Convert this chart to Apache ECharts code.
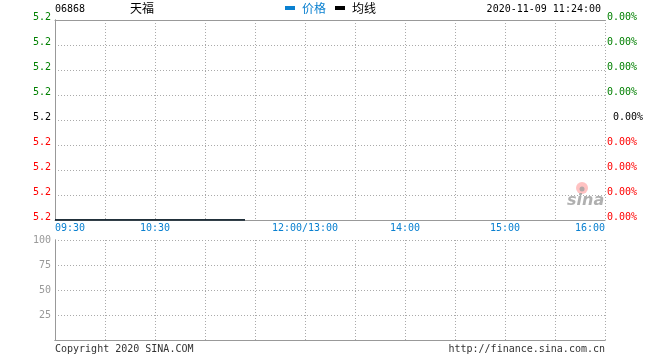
<!DOCTYPE html>
<html><head><meta charset="utf-8">
<script src="https://cdn.jsdelivr.net/npm/echarts@6/dist/echarts.min.js"></script>
<style>html,body{margin:0;padding:0;background:#fff}#c{width:660px;height:360px}</style>
</head><body><div id="c"></div>
<script>
// ---- data ----
var stockCode = '06868';
var stockName = '天福';
var timestamp = '2020-11-09 11:24:00';
var seriesNames = ['价格', '均线'];
var times = ['09:30', '11:24'];
var prices = [5.2, 5.2];
var avgPrices = [5.2, 5.2];
var priceTickLabels = ['5.2','5.2','5.2','5.2','5.2','5.2','5.2','5.2','5.2']; // bottom -> top
var pctTickLabels = ['0.00%','0.00%','0.00%','0.00%','0.00%','0.00%','0.00%','0.00%','0.00%'];
var timeTickLabels = ['09:30','10:30','12:00/13:00','14:00','15:00','16:00'];
var timeTickMinutes = [0, 60, 150, 210, 270, 330];
var volTickLabels = [100, 75, 50, 25];
var copyright = 'Copyright 2020 SINA.COM';
var siteUrl = 'http://finance.sina.com.cn';

// ---- helpers ----
function toMinutes(t) {
  var p = t.split(':'); var m = (+p[0]) * 60 + (+p[1]);
  var open = 9 * 60 + 30;
  if (m <= 12 * 60) return m - open;
  return (m - 13 * 60) + 150;
}
var priceData = times.map(function (t, i) { return [toMinutes(t), prices[i]]; });
var avgData = times.map(function (t, i) { return [toMinutes(t), avgPrices[i]]; });

var MONO = 'DejaVu Sans Mono';
var CJK = 'Noto Sans CJK SC';
var GREEN = '#008000', RED = '#ff0000', BLUE = '#0a80d0', GRAY = '#999999';
var yMin = 5.2, yInt = 0.1, yMax = 6.0;

function levelIndex(v) { return Math.round((v - yMin) / yInt); }
function colorKey(i) { return i < 4 ? 'r' : (i === 4 ? 'k' : 'g'); }
var rich = {
  r: { color: RED, fontFamily: MONO, fontSize: 10 },
  k: { color: '#000', fontFamily: MONO, fontSize: 10 },
  g: { color: GREEN, fontFamily: MONO, fontSize: 10 },
  km: { color: '#000', fontFamily: MONO, fontSize: 10, padding: [0, 0, 0, 6] }
};
var dotted = { show: true, lineStyle: { color: '#aaaaaa', type: [1, 2], width: 1 } };
var axisGray = { show: true, lineStyle: { color: GRAY, width: 1 } };

var chart = echarts.init(document.getElementById('c'), null, { renderer: 'canvas' });
chart.setOption({
  animation: false,
  backgroundColor: '#fff',
  textStyle: { fontFamily: MONO },
  legend: {
    left: 285, top: 2, padding: 0, itemWidth: 10, itemHeight: 4, itemGap: 9, icon: 'rect',
    data: [
      { name: seriesNames[0], textStyle: { color: BLUE } },
      { name: seriesNames[1], textStyle: { color: '#000' } }
    ],
    textStyle: { fontFamily: CJK, fontSize: 12, padding: [0, 0, 0, 2] }
  },
  grid: [
    { left: 55, top: 20, width: 550, height: 200 },
    { left: 55, top: 240, width: 550, height: 100 }
  ],
  xAxis: [
    { type: 'value', gridIndex: 0, min: 0, max: 330, interval: 30, position: 'bottom',
      axisLine: axisGray, axisTick: { show: false }, splitLine: dotted,
      axisLabel: { margin: 3, color: BLUE, fontFamily: MONO, fontSize: 10,
        alignMinLabel: 'left', alignMaxLabel: 'right',
        formatter: function (v) { var k = timeTickMinutes.indexOf(v); return k >= 0 ? timeTickLabels[k] : ''; } } },
    { type: 'value', gridIndex: 0, min: 0, max: 330, interval: 30, position: 'top',
      axisLine: axisGray, axisTick: { show: false }, splitLine: { show: false }, axisLabel: { show: false } },
    { type: 'value', gridIndex: 1, min: 0, max: 330, interval: 30, position: 'bottom',
      axisLine: axisGray, axisTick: { show: false }, splitLine: dotted, axisLabel: { show: false } },
    { type: 'value', gridIndex: 1, min: 0, max: 330, interval: 30, position: 'top',
      axisLine: axisGray, axisTick: { show: false }, splitLine: { show: false }, axisLabel: { show: false } }
  ],
  yAxis: [
    { type: 'value', gridIndex: 0, min: yMin, max: yMax, interval: yInt, position: 'left',
      axisLine: axisGray, axisTick: { show: false }, splitLine: dotted,
      axisLabel: { margin: 4, verticalAlign: 'middle', padding: [0, 0, 6, 0], rich: rich,
        formatter: function (v) { var i = levelIndex(v); return '{' + colorKey(i) + '|' + priceTickLabels[i] + '}'; } } },
    { type: 'value', gridIndex: 0, min: yMin, max: yMax, interval: yInt, position: 'right',
      axisLine: axisGray, axisTick: { show: false }, splitLine: { show: false },
      axisLabel: { margin: 2, verticalAlign: 'middle', padding: [0, 0, 6, 0], rich: rich,
        formatter: function (v) { var i = levelIndex(v); var k = colorKey(i); return '{' + (k === 'k' ? 'km' : k) + '|' + pctTickLabels[i] + '}'; } } },
    { type: 'value', gridIndex: 1, min: 0, max: 100, interval: 25, position: 'left',
      axisLine: axisGray, axisTick: { show: false }, splitLine: dotted,
      axisLabel: { margin: 4, verticalAlign: 'middle', padding: [0, 0, 5, 0], color: GRAY, fontFamily: MONO, fontSize: 10,
        formatter: function (v) { return volTickLabels.indexOf(v) >= 0 ? String(v) : ''; } } },
    { type: 'value', gridIndex: 1, min: 0, max: 100, interval: 25, position: 'right',
      axisLine: axisGray, axisTick: { show: false }, splitLine: { show: false }, axisLabel: { show: false } }
  ],
  series: [
    { name: seriesNames[0], type: 'line', xAxisIndex: 0, yAxisIndex: 0, data: priceData,
      showSymbol: false, color: BLUE, lineStyle: { width: 1, color: BLUE }, z: 5 },
    { name: seriesNames[1], type: 'line', xAxisIndex: 0, yAxisIndex: 0, data: avgData,
      showSymbol: false, color: '#000', lineStyle: { width: 1.5, color: '#000' }, z: 6 }
  ],
  graphic: [
    { type: 'text', left: 55, top: 4, style: { text: stockCode, font: '10px "' + MONO + '"', fill: '#000' } },
    { type: 'text', left: 130, top: 2, style: { text: stockName, font: '12px "' + CJK + '"', fill: '#000' } },
    { type: 'text', right: 59, top: 4, style: { text: timestamp, font: '10px "' + MONO + '"', fill: '#000' } },
    { type: 'text', left: 55, top: 344, style: { text: copyright, font: '10px "' + MONO + '"', fill: '#333' } },
    { type: 'text', right: 55, top: 344, style: { text: siteUrl, font: '10px "' + MONO + '"', fill: '#333' } },
    { type: 'group', left: 567, top: 182, children: [
      { type: 'circle', shape: { cx: 15, cy: 8, r: 6 }, style: { fill: 'rgba(255,120,120,0.45)' } },
      { type: 'circle', shape: { cx: 15, cy: 9, r: 2.5 }, style: { fill: 'rgba(160,160,160,0.8)' } },
      { type: 'text', x: 0, y: 13, style: { text: 'sina', font: 'italic bold 16px "DejaVu Sans"', fill: 'rgba(150,150,150,0.75)' } }
    ] }
  ]
});
</script></body></html>
